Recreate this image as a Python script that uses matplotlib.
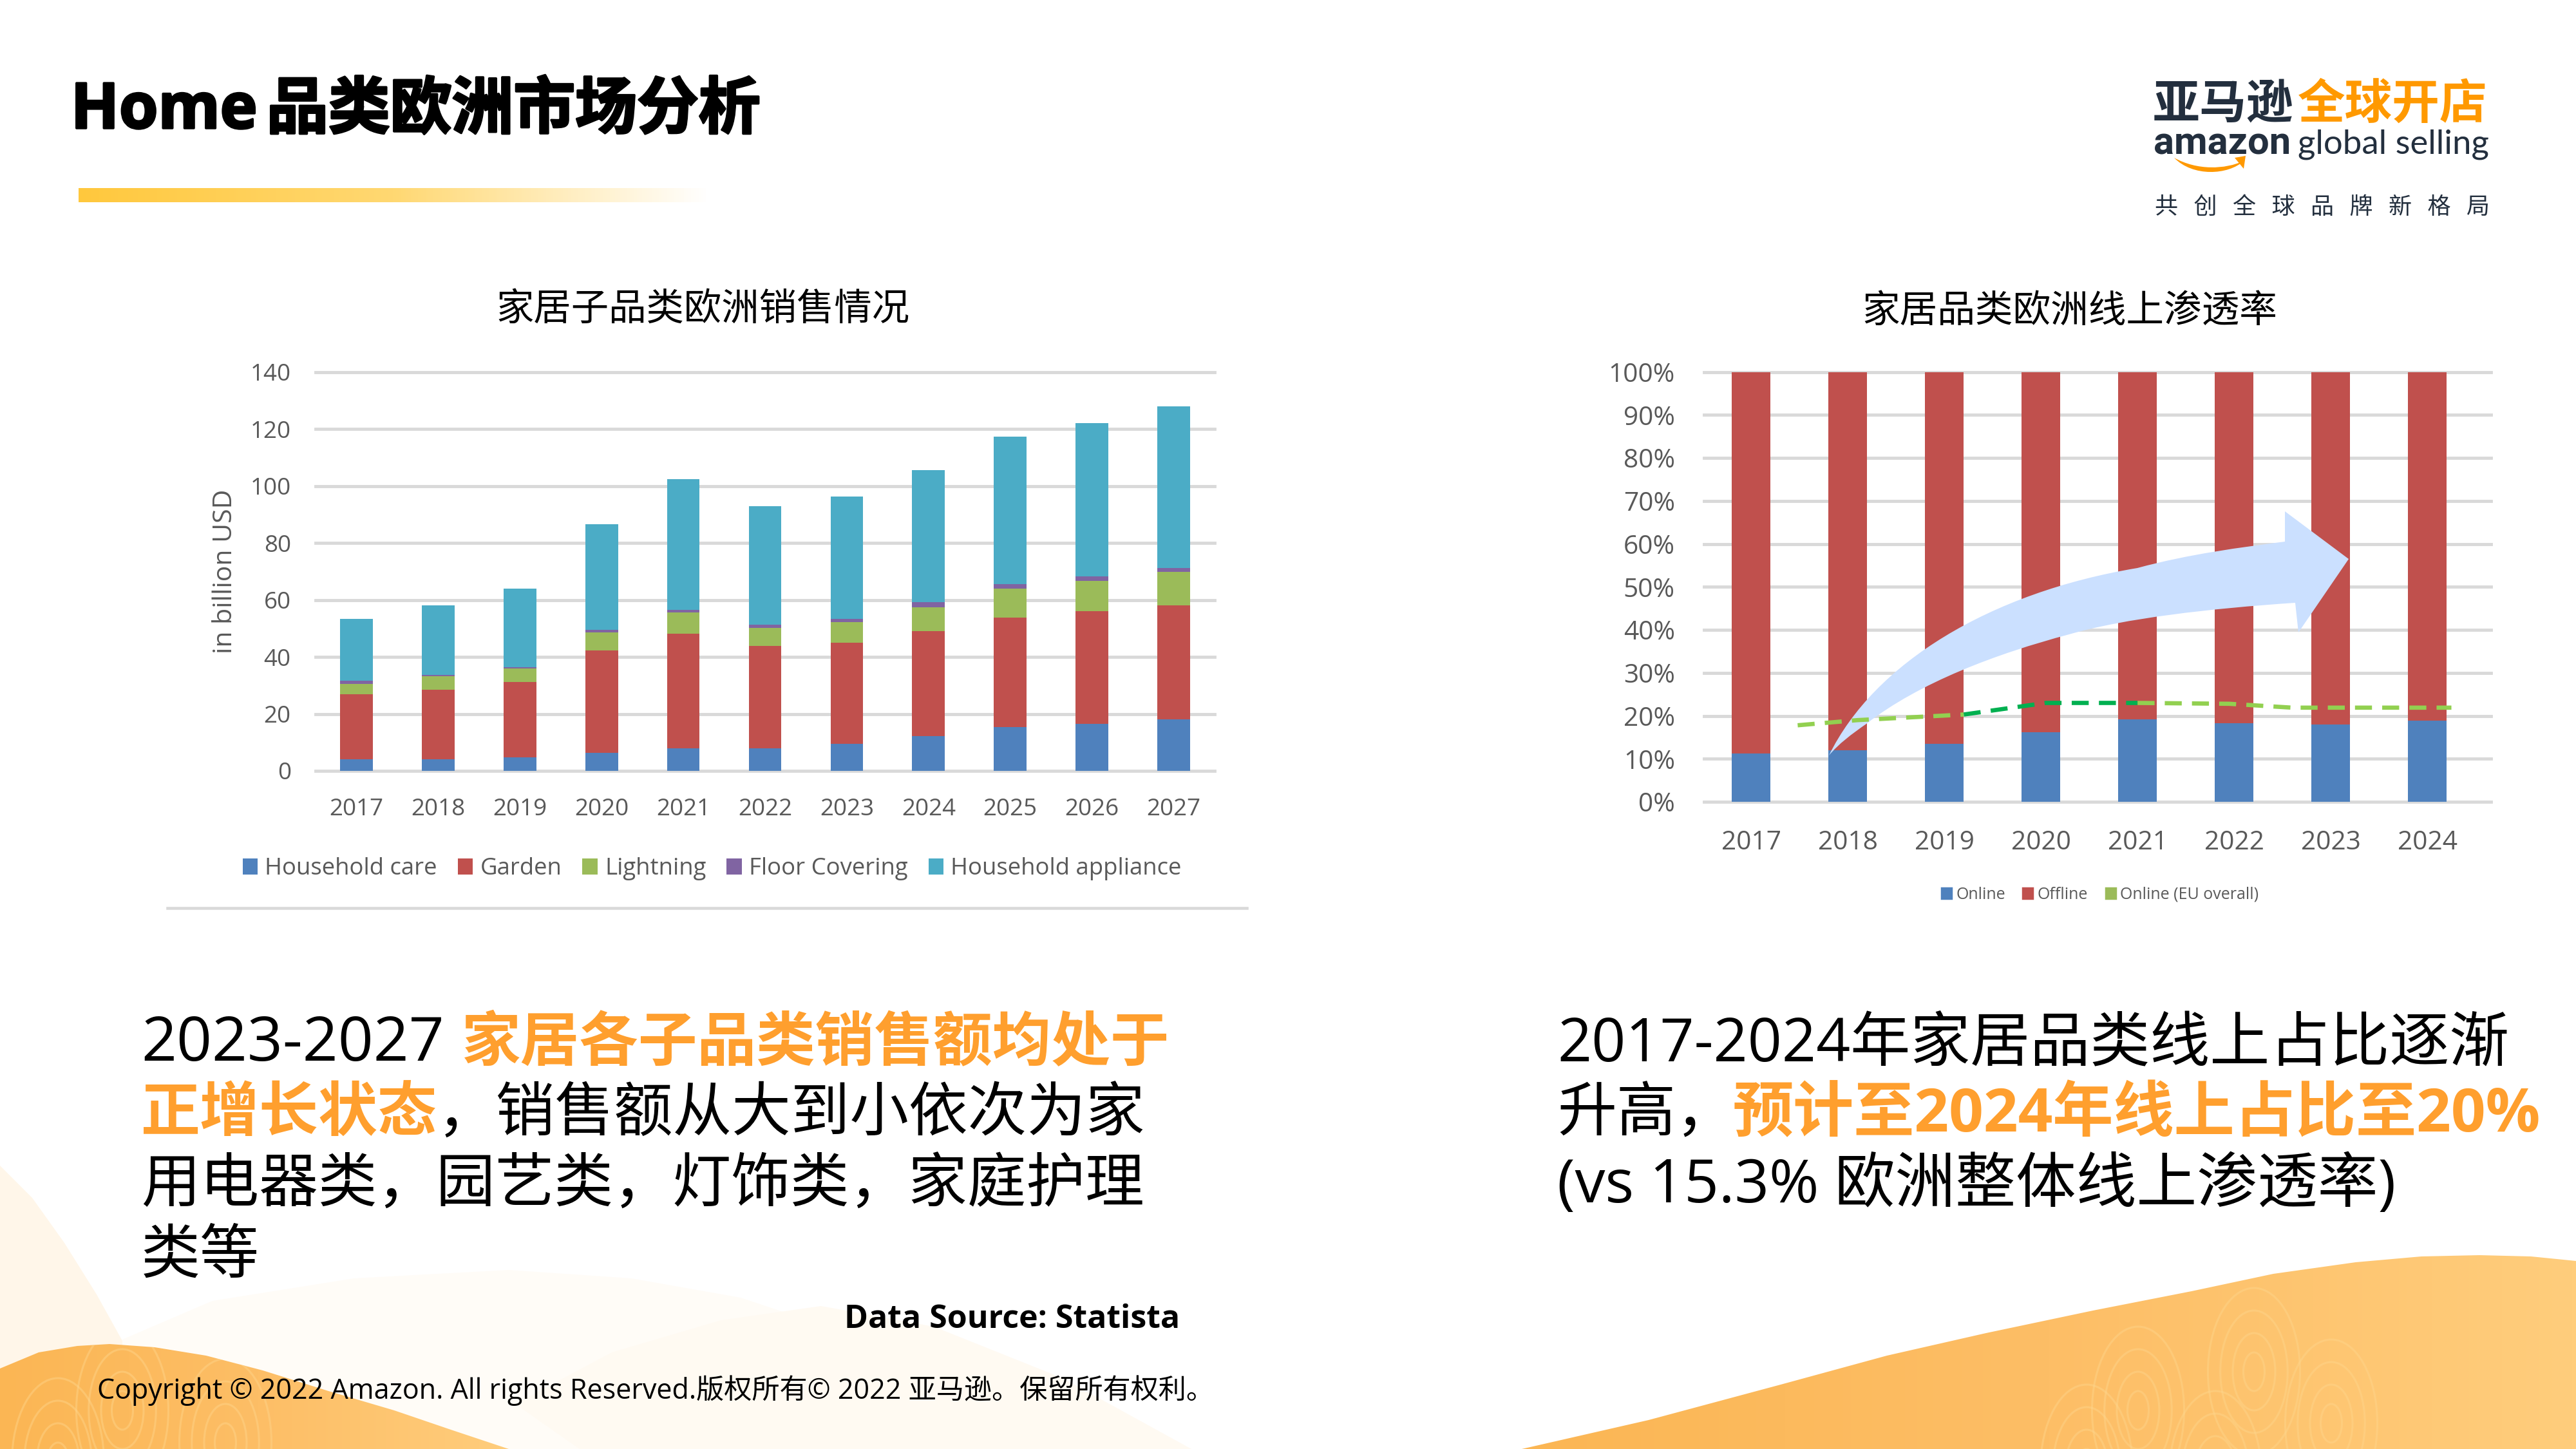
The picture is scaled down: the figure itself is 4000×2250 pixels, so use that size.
#!/usr/bin/env python3
"""
Home category Europe market slide: two stacked bar charts plus slide text
"""

import numpy as np
import matplotlib
matplotlib.use('Agg')
import matplotlib.pyplot as plt
import matplotlib.patheffects as pe
from matplotlib.patches import Ellipse, PathPatch, Patch, Polygon
from matplotlib.path import Path
from matplotlib.colors import LinearSegmentedColormap

# Left chart, billion USD per category
years_sales = ['2017', '2018', '2019', '2020', '2021', '2022', '2023', '2024', '2025', '2026', '2027']
household_care = [4.1, 4.1, 4.8, 6.3, 7.8, 7.8, 9.5, 12.2, 15.3, 16.4, 18.1]
garden = [22.7, 24.4, 26.3, 35.9, 40.3, 36.0, 35.4, 36.8, 38.5, 39.6, 40.0]
lightning = [3.7, 4.7, 4.8, 6.4, 7.5, 6.3, 7.4, 8.5, 10.2, 10.6, 11.8]
floor_covering = [1.1, 0.5, 0.5, 1.0, 0.8, 1.1, 1.0, 1.7, 1.5, 1.6, 1.3]
household_appliance = [21.7, 24.4, 27.6, 37.0, 46.1, 41.8, 42.9, 46.4, 51.8, 53.8, 56.8]
sales_ticks = [0, 20, 40, 60, 80, 100, 120, 140]

# Right chart, share in percent
years_share = ['2017', '2018', '2019', '2020', '2021', '2022', '2023', '2024']
online = [11.3, 12.0, 13.5, 16.2, 19.2, 18.3, 18.0, 18.9]
offline = [88.7, 88.0, 86.5, 83.8, 80.8, 81.7, 82.0, 81.1]
share_ticks = [0, 10, 20, 30, 40, 50, 60, 70, 80, 90, 100]

# EU overall dashed line (hand drawn on the slide, so not on category centres)
eu_pos_a = [0.48, 1.1, 2.2]
eu_val_a = [17.8, 19.0, 20.3]
eu_pos_b = [2.2, 3.05, 4.0]
eu_val_b = [20.3, 23.0, 23.0]
eu_pos_c = [4.0, 4.95, 5.6, 7.25]
eu_val_c = [23.0, 22.8, 21.9, 21.9]

BLUE, RED, GREEN, PURPLE, TEAL = '#4F81BD', '#C0504D', '#9BBB59', '#8064A2', '#4BACC6'
GRID = '#D9D9D9'
TICK = '#595959'
ORANGE = '#FF9F2E'
DARK = '#232F3E'
FONT = ['Open Sans', 'Noto Sans CJK SC', 'DejaVu Sans']

plt.rcParams['font.family'] = FONT


def px_axes(fig, x0, y0, x1, y1):
    """Axes placed by slide pixels"""
    ax = fig.add_axes([x0 / 4000, 1 - y1 / 2250, (x1 - x0) / 4000, (y1 - y0) / 2250])
    ax.patch.set_alpha(0)
    return ax


def style_axes(ax, size, pad_x, pad_y):
    for s in ax.spines.values():
        s.set_visible(False)
    ax.tick_params(length=0, labelcolor=TICK, labelsize=size)
    ax.tick_params(axis='x', pad=pad_x)
    ax.tick_params(axis='y', pad=pad_y)
    ax.set_axisbelow(True)
    ax.yaxis.grid(True, color=GRID, linewidth=1.4)
    ax.xaxis.grid(False)
    for g in ax.yaxis.get_gridlines():
        g.set_clip_on(False)


def fill_shape(bg, pts, **kw):
    patch = Polygon(pts, closed=True, linewidth=0, **kw)
    bg.add_patch(patch)
    return patch


def draw_background(bg):
    # pale waves at lower left
    fill_shape(bg, [(0, 1810), (50, 1860), (100, 1930), (150, 2010), (200, 2100), (240, 2250), (0, 2250)],
               facecolor='#FFF6E9', zorder=1)
    fill_shape(bg, [(190, 2080), (330, 2020), (550, 1985), (790, 1972), (980, 1985), (1150, 2015), (1300, 2065),
                    (1500, 2130), (1700, 2200), (1850, 2250), (190, 2250)],
               facecolor='#FFFCF7', zorder=1)
    fill_shape(bg, [(800, 2180), (950, 2100), (1120, 2050), (1275, 2028), (1450, 2060), (1650, 2140), (1850, 2250),
                    (900, 2250)], facecolor='#FFFAF2', zorder=1)

    # orange humps with a horizontal gradient
    left_hump = np.array([(0, 2125), (60, 2100), (120, 2090), (170, 2087), (240, 2092), (320, 2105), (408, 2128),
                          (510, 2160), (612, 2190), (700, 2220), (790, 2250), (0, 2250)])
    right_hump = np.array([(2363, 2250), (2560, 2205), (2765, 2150), (2930, 2105), (3084, 2070), (3250, 2035),
                           (3403, 2005), (3530, 1978), (3658, 1960), (3760, 1951), (3850, 1949), (3930, 1951),
                           (4000, 1958), (4000, 2250)])
    cmap = LinearSegmentedColormap.from_list('hump', ['#FBB654', '#FDBE66', '#FFCD7C'])
    grad = np.linspace(0, 1, 256).reshape(1, -1)
    for pts, extent, zo in [(left_hump, (0, 800, 2250, 2085), 2), (right_hump, (2363, 4000, 2250, 1949), 2)]:
        poly = Polygon(pts, closed=True, facecolor='none', edgecolor='none')
        bg.add_patch(poly)
        im = bg.imshow(grad, extent=extent, aspect='auto', cmap=cmap, zorder=zo)
        im.set_clip_path(poly)
        # swirl texture
        if extent[0] > 0:
            centres = [(3320, 2190), (3500, 2130), (3620, 2210), (3240, 2280), (3440, 2290)]
        else:
            centres = [(190, 2190), (350, 2240), (90, 2270)]
        for cx, cy in centres:
            for r in (30, 60, 95, 130):
                e = Ellipse((cx, cy), r * 1.1, r * 2.0, fill=False, edgecolor='#FFD68C', linewidth=0.9, alpha=0.45,
                            zorder=3)
                bg.add_patch(e)
                e.set_clip_path(poly)
    bg.set_xlim(0, 4000)
    bg.set_ylim(2250, 0)


def draw_logo(bg):
    bg.text(3343, 184, '亚马逊', fontsize=21, fontweight='bold', color=DARK, family=FONT[1:], zorder=6)
    bg.text(3568, 184, '全球开店', fontsize=21.2, fontweight='bold', color='#FF9900', family=FONT[1:], zorder=6)
    bg.text(3344, 240, 'amazon', fontsize=17.2, fontweight='bold', color=DARK, family='Roboto', zorder=6)
    bg.text(3568, 238, 'global selling', fontsize=15.2, color=DARK, family='Lato', zorder=6)
    bg.text(3346, 332, '共 创 全 球 品 牌 新 格 局'.replace(' ', '   '), fontsize=10.4, color=DARK,
            family=FONT[1:], zorder=6)
    # smile
    verts = [(3376, 245), (3405, 275), (3460, 272), (3484, 250), (3455, 263), (3412, 265), (3376, 245), (3376, 245)]
    codes = [Path.MOVETO, Path.CURVE4, Path.CURVE4, Path.CURVE4, Path.CURVE4, Path.CURVE4, Path.CURVE4, Path.CLOSEPOLY]
    bg.add_patch(PathPatch(Path(verts, codes), facecolor='#FF9900', linewidth=0, zorder=6))
    bg.add_patch(Polygon([(3470, 245), (3487, 242), (3484, 262)], closed=True, facecolor='#FF9900', linewidth=0, zorder=6))


def draw_text(bg):
    heavy = [pe.withStroke(linewidth=1.0, foreground='black')]
    bg.text(110, 199, 'Home', fontsize=28.2, fontweight='bold', color='black', zorder=6, path_effects=heavy)
    bg.text(414, 199, '品类欧洲市场分析', fontsize=27.6, fontweight='bold', color='black', zorder=6, path_effects=heavy)

    # underline fading to white
    fade = LinearSegmentedColormap.from_list('fade', ['#FFC83D', '#FFD872', '#FFFFFF'])
    bg.imshow(np.linspace(0, 1, 256).reshape(1, -1), extent=(122, 1100, 314, 292), aspect='auto', cmap=fade, zorder=2)
    bg.set_xlim(0, 4000)
    bg.set_ylim(2250, 0)

    bg.text(1092, 497, '家居子品类欧洲销售情况', ha='center', fontsize=16.8, color='black', zorder=6)
    bg.text(3214, 500, '家居品类欧洲线上渗透率', ha='center', fontsize=16.9, color='black', zorder=6)
    bg.plot([260, 1936], [1410, 1410], color=GRID, linewidth=1.3, zorder=2)

    lines = [
        (219, 1647, '2023-2027', 'black', 'normal', 27.7),
        (717, 1647, '家居各子品类销售额均处于', ORANGE, 'bold', 26.4),
        (219, 1757, '正增长状态', ORANGE, 'bold', 26.5),
        (679, 1757, '，销售额从大到小依次为家', 'black', 'normal', 26.4),
        (219, 1867, '用电器类，园艺类，灯饰类，家庭护理', 'black', 'normal', 26.4),
        (219, 1977, '类等', 'black', 'normal', 26.5),
        (2418, 1647, '2017-2024年家居品类线上占比逐渐', 'black', 'normal', 26.8),
        (2418, 1757, '升高，', 'black', 'normal', 26.5),
        (2691, 1757, '预计至2024年线上占比至20%', ORANGE, 'bold', 27.1),
        (2418, 1867, '(vs 15.3% 欧洲整体线上渗透率)', 'black', 'normal', 27.0),
    ]
    for x, y, txt, col, weight, size in lines:
        bg.text(x, y, txt, fontsize=size, color=col, fontweight=weight, zorder=6)

    bg.text(1832, 2062, 'Data Source: Statista', ha='right', fontsize=14.4, fontweight='bold', color='black', zorder=6)
    bg.text(151, 2172, 'Copyright © 2022 Amazon. All rights Reserved.版权所有© 2022 亚马逊。保留所有权利。',
            fontsize=12.45, color='black', zorder=6)


def draw_sales_chart(fig):
    ax = px_axes(fig, 490, 577.6, 1886, 1197)
    x = np.arange(len(years_sales))
    bottom = np.zeros(len(years_sales))
    series = [(household_care, BLUE, 'Household care'), (garden, RED, 'Garden'), (lightning, GREEN, 'Lightning'),
              (floor_covering, PURPLE, 'Floor Covering'), (household_appliance, TEAL, 'Household appliance')]
    for vals, col, name in series:
        ax.bar(x, vals, width=0.4, bottom=bottom, color=col, label=name, zorder=2)
        bottom += np.array(vals)
    ax.set_xlim(-0.5, 10.5)
    ax.set_ylim(0, 140)
    ax.set_xticks(x, years_sales)
    ax.set_yticks(sales_ticks)
    style_axes(ax, 10.6, 12, 11)
    ax.set_ylabel('in billion USD', fontsize=11.8, color=TICK)
    ax.yaxis.set_label_coords(-0.086, 0.5)
    ax.legend(loc='center', bbox_to_anchor=(0.441, -0.246), ncol=5, frameon=False, fontsize=10.5, labelcolor=TICK,
              handlelength=0.65, handleheight=0.65, handletextpad=0.3, columnspacing=0.88, borderpad=0, borderaxespad=0)


def draw_share_chart(fig, bg):
    ax = px_axes(fig, 2646, 577.6, 3868, 1245)
    x = np.arange(len(years_share))
    ax.bar(x, online, width=0.4, color=BLUE, zorder=2)
    ax.bar(x, offline, width=0.4, bottom=online, color=RED, zorder=2)
    ax.set_xlim(-0.49, 7.66)
    ax.set_ylim(0, 100)
    ax.set_xticks(x, years_share)
    ax.set_yticks(share_ticks, [f'{t}%' for t in share_ticks])
    style_axes(ax, 11.7, 12.4, 13)

    # big arrow sits between bars and the dashed line
    verts = [(2840, 1173), (2910, 1030), (3090, 920), (3319, 882), (3400, 860), (3480, 850), (3548, 841),
             (3548, 794), (3647, 868), (3569, 982), (3564, 936), (3430, 945), (3300, 960), (3213, 985),
             (3100, 1015), (2980, 1060), (2898, 1124), (2875, 1140), (2855, 1155), (2840, 1173), (2840, 1173)]
    codes = [Path.MOVETO] + [Path.CURVE4] * 6 + [Path.LINETO] * 4 + [Path.CURVE4] * 9 + [Path.CLOSEPOLY]
    arrow = PathPatch(Path(verts, codes), facecolor='#CBE0FF', linewidth=0, zorder=3,
                      transform=bg.transData, clip_on=False)
    ax.add_patch(arrow)

    dash = (4, 2.4)
    ax.plot(eu_pos_a, eu_val_a, color='#92D050', linewidth=1.9, dashes=dash, zorder=4)
    ax.plot(eu_pos_b, eu_val_b, color='#00B050', linewidth=1.9, dashes=dash, zorder=4)
    ax.plot(eu_pos_c, eu_val_c, color='#92D050', linewidth=1.9, dashes=dash, zorder=4)

    handles = [Patch(color=BLUE, label='Online'), Patch(color=RED, label='Offline'),
               Patch(color=GREEN, label='Online (EU overall)')]
    ax.legend(handles=handles, loc='center', bbox_to_anchor=((3261 - 2646) / 1222, -(1389 - 1245) / 667.4), ncol=3,
              frameon=False, fontsize=7.2, labelcolor=TICK, handlelength=0.6, handleheight=0.6, handletextpad=0.3,
              columnspacing=1.1, borderpad=0, borderaxespad=0)


def main():
    fig = plt.figure(figsize=(16, 9), dpi=250, facecolor='white')
    bg = fig.add_axes([0, 0, 1, 1])
    bg.set_axis_off()
    bg.set_xlim(0, 4000)
    bg.set_ylim(2250, 0)

    draw_background(bg)
    draw_logo(bg)
    draw_text(bg)
    draw_sales_chart(fig)
    draw_share_chart(fig, bg)

    fig.savefig('out.png', dpi=250)


if __name__ == "__main__":
    main()
